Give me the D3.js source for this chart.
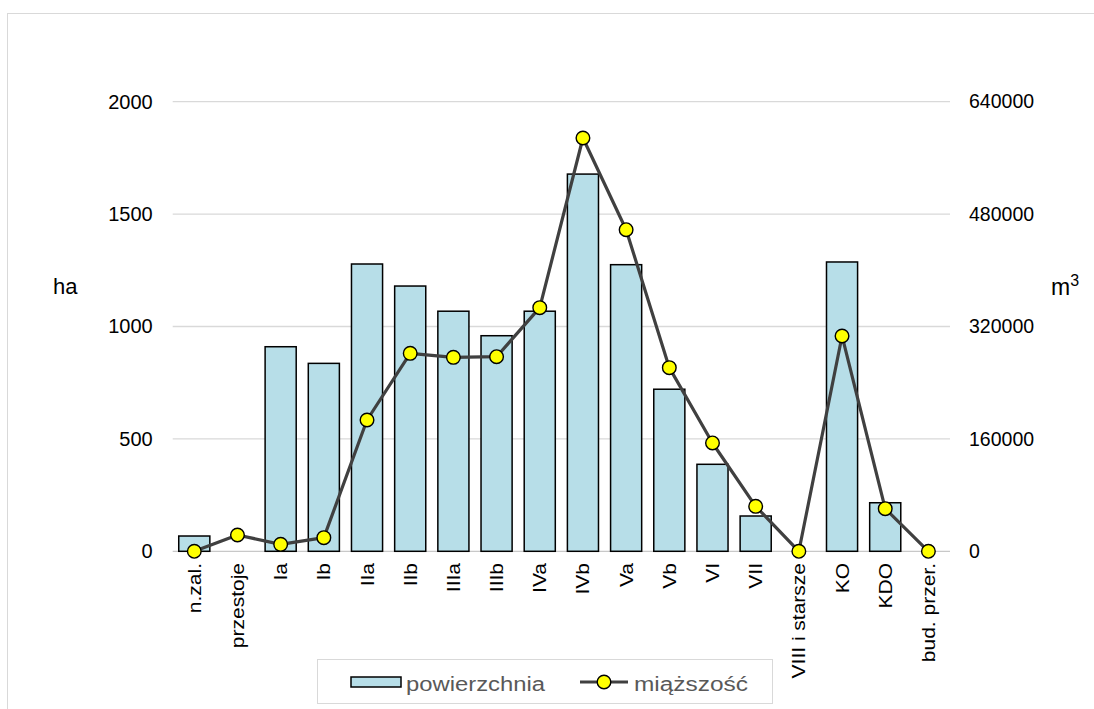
<!DOCTYPE html>
<html><head><meta charset="utf-8">
<script src="https://cdn.jsdelivr.net/npm/d3@7"></script>
<style>
html,body{margin:0;padding:0;background:#fff;}
svg text{font-family:"Liberation Sans",Arial,sans-serif;}
</style></head>
<body>
<svg id="c" width="1094" height="709"></svg>
<script>
const categories = ["n.zal.","przestoje","Ia","Ib","IIa","IIb","IIIa","IIIb","IVa","IVb","Va","Vb","VI","VII","VIII i starsze","KO","KDO","bud. przer."];
const powierzchnia = [68,0,910,836,1278,1180,1068,959,1068,1678,1275,721,387,157,0,1287,216,0];
const miazszosc = [0,23200,9900,19400,186900,281800,276100,277000,346800,588300,457800,261400,154200,64000,0,306500,60700,0];
const leftTicks = [0,500,1000,1500,2000];
const rightTicks = [0,160000,320000,480000,640000];
const seriesNames = ["powierzchnia","miąższość"];

const svg = d3.select("#c");
const L = 172.7, R = 950, T = 101.7, B = 551.3;

// outer border
svg.append("rect").attr("x",7.5).attr("y",13.5).attr("width",1200).attr("height",800)
  .attr("fill","none").attr("stroke","#D9D9D9").attr("stroke-width",1);

const x = d3.scaleBand().domain(categories).range([L,R]).paddingInner(0.28).paddingOuter(0.14);
const yL = d3.scaleLinear().domain([0,2000]).range([B,T]);
const yR = d3.scaleLinear().domain([0,640000]).range([B,T]);

// gridlines
svg.append("g").selectAll("line").data(leftTicks).join("line")
  .attr("x1",L).attr("x2",R).attr("y1",d=>yL(d)).attr("y2",d=>yL(d))
  .attr("stroke",d=>d===0?"#C8C8C8":"#D9D9D9").attr("stroke-width",1.3);

// left axis
const axL = svg.append("g").attr("transform",`translate(${L},0)`)
  .call(d3.axisLeft(yL).tickValues(leftTicks).tickSize(0).tickPadding(20).tickFormat(d3.format("d")));
axL.select(".domain").remove();
axL.selectAll("text").attr("font-size",20).attr("fill","#000").style("font-family","'Liberation Sans',Arial,sans-serif");

// right axis
const axR = svg.append("g").attr("transform",`translate(${R},0)`)
  .call(d3.axisRight(yR).tickValues(rightTicks).tickSize(0).tickPadding(19).tickFormat(d3.format("d")));
axR.select(".domain").remove();
axR.selectAll("text").attr("font-size",19.5).attr("fill","#000").style("font-family","'Liberation Sans',Arial,sans-serif");

// axis titles
svg.append("text").attr("x",53).attr("y",294).attr("font-size",22).attr("fill","#000").text("ha");
const m3 = svg.append("text").attr("x",1051).attr("y",295).attr("font-size",23).attr("fill","#000");
m3.append("tspan").text("m");
m3.append("tspan").attr("dy",-9).attr("font-size",16).text("3");

// bars
svg.append("g").selectAll("rect").data(categories).join("rect")
  .attr("x",d=>x(d)).attr("width",x.bandwidth())
  .attr("y",(d,i)=>yL(powierzchnia[i])).attr("height",(d,i)=>B-yL(powierzchnia[i]))
  .attr("fill",(d,i)=>powierzchnia[i]>0?"#B7DEE8":"none")
  .attr("stroke",(d,i)=>powierzchnia[i]>0?"#000":"none").attr("stroke-width",1.5);

// line
const line = d3.line().x((d,i)=>x(categories[i])+x.bandwidth()/2).y(d=>yR(d));
svg.append("path").datum(miazszosc).attr("d",line).attr("fill","none")
  .attr("stroke","#404040").attr("stroke-width",3.2).attr("stroke-linejoin","round");
svg.append("g").selectAll("circle").data(miazszosc).join("circle")
  .attr("cx",(d,i)=>x(categories[i])+x.bandwidth()/2).attr("cy",d=>yR(d)).attr("r",6.8)
  .attr("fill","#FFFF00").attr("stroke","#000").attr("stroke-width",1.4);

// category labels
svg.append("g").selectAll("text").data(categories).join("text")
  .attr("transform",d=>`translate(${x(d)+x.bandwidth()/2+6.5},563) rotate(-90) scale(1.2,1)`)
  .attr("text-anchor","end").attr("font-size",17.5).attr("fill","#000").text(d=>d);

// legend
svg.append("rect").attr("x",317.5).attr("y",659.5).attr("width",455).attr("height",44)
  .attr("fill","#fff").attr("stroke","#D9D9D9").attr("stroke-width",1);
svg.append("rect").attr("x",351).attr("y",677).attr("width",50).attr("height",10)
  .attr("fill","#B7DEE8").attr("stroke","#000").attr("stroke-width",1.5);
svg.append("text").attr("x",406).attr("y",691).attr("font-size",20).attr("fill","#595959")
  .attr("textLength",139).attr("lengthAdjust","spacingAndGlyphs").text(seriesNames[0]);
svg.append("line").attr("x1",580).attr("x2",628).attr("y1",682).attr("y2",682).attr("stroke","#404040").attr("stroke-width",3.2);
svg.append("circle").attr("cx",604).attr("cy",682).attr("r",6.8).attr("fill","#FFFF00").attr("stroke","#000").attr("stroke-width",1.4);
svg.append("text").attr("x",634).attr("y",691).attr("font-size",20).attr("fill","#595959")
  .attr("textLength",114).attr("lengthAdjust","spacingAndGlyphs").text(seriesNames[1]);
</script>
</body></html>
